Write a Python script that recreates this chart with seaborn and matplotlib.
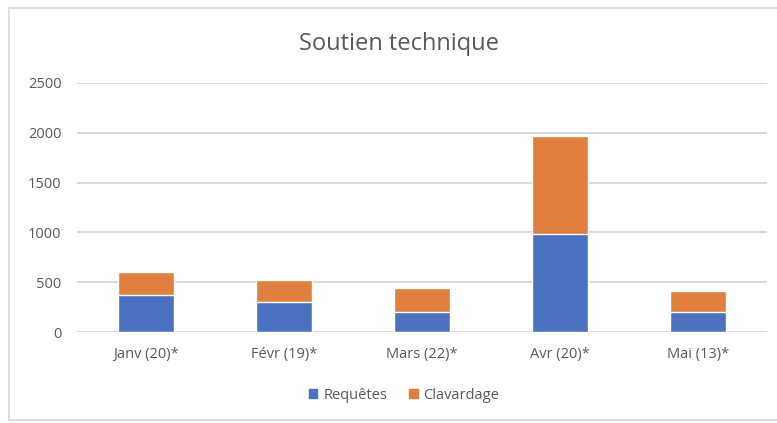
import seaborn as sns
import matplotlib.pyplot as plt
import matplotlib.patches as mpatches
import pandas as pd

# data
mois = ["Janv (20)*", "Févr (19)*", "Mars (22)*", "Avr (20)*", "Mai (13)*"]
requetes = [375, 300, 200, 985, 200]
clavardage = [225, 220, 240, 985, 210]

df = pd.DataFrame({"mois": mois, "Requêtes": requetes, "Clavardage": clavardage})
df["total"] = df["Requêtes"] + df["Clavardage"]

blue = "#4A72C0"
orange = "#E0803F"
grey = "#595959"

sns.set_style("white")
plt.rcParams['font.family'] = ['Open Sans', 'DejaVu Sans']

fig = plt.figure(figsize=(7.77, 4.23), dpi=100)
ax = fig.add_axes([0.099, 0.215, 0.888, 0.589])

# stacked: total in orange, Requêtes in blue on top of it
sns.barplot(data=df, x="mois", y="total", color=orange, width=0.41,
            saturation=1, ax=ax, zorder=3)
sns.barplot(data=df, x="mois", y="Requêtes", color=blue, width=0.41,
            saturation=1, ax=ax, zorder=3)

ax.set_ylim(0, 2500)
ax.set_yticks([0, 500, 1000, 1500, 2000, 2500])
ax.yaxis.grid(True, color="#D9D9D9", linewidth=1.4, zorder=0)
ax.set_axisbelow(True)
for s in ax.spines.values():
    s.set_visible(False)
ax.set_xlabel("")
ax.set_ylabel("")
ax.tick_params(axis="both", length=0, labelsize=10.5, colors=grey)
ax.tick_params(axis="x", pad=11)
ax.tick_params(axis="y", pad=11)

fig.text(0.513, 0.897, "Soutien technique", ha="center", va="center",
         fontsize=17, color=grey)

handles = [mpatches.Patch(color=blue, label="Requêtes"),
           mpatches.Patch(color=orange, label="Clavardage")]
fig.legend(handles=handles, loc="center", bbox_to_anchor=(0.52, 0.066), ncol=2,
           frameon=False, fontsize=10.5, labelcolor=grey, handlelength=0.6,
           handleheight=0.6, handletextpad=0.4, columnspacing=1.5)

# chart frame
fig.add_artist(plt.Line2D([0.012, 0.012], [0.007, 0.981], color="#D9D9D9", lw=1.2))
fig.add_artist(plt.Line2D([0.012, 1.0], [0.981, 0.981], color="#D9D9D9", lw=1.2))
fig.add_artist(plt.Line2D([0.012, 1.0], [0.007, 0.007], color="#D9D9D9", lw=1.2))

fig.savefig("out.png", dpi=100)
